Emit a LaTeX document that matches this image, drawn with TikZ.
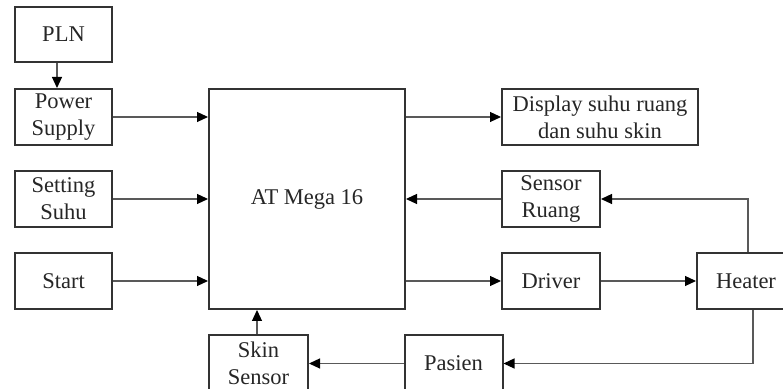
\documentclass[tikz,border=0pt]{standalone}
\usepackage{fontspec}
\setmainfont{Liberation Serif}
\usetikzlibrary{arrows.meta,calc}
\begin{document}
\begin{tikzpicture}[x=0.5pt,y=-0.5pt,
  blk/.style={draw=black!80,line width=1pt,inner sep=0pt,align=center,
    font=\fontsize{11.25pt}{13.5pt}\selectfont,text=black!85,
    minimum width=48.5pt,minimum height=28pt},
  arr/.style={draw=black!65,line width=0.6pt,-{Triangle[length=5.5pt,width=5pt,color=black]}}]
\useasboundingbox (0,0) rectangle (783,389);
\node[blk,minimum height=27.5pt] (PLN) at (63.5,34.5) {PLN};
\node[blk] (Power) at (63.5,117) {Power\\Supply};
\node[blk] (Setting) at (63.5,199) {Setting\\Suhu};
\node[blk] (Start) at (63.5,281) {Start};
\node[blk,minimum width=98pt,minimum height=110pt] (AT) at (307,199) {AT Mega 16};
\node[blk,minimum width=98pt] (Display) at (600,117) {Display suhu ruang\\dan suhu skin};
\node[blk,minimum width=49pt] (SensorR) at (551,199) {Sensor\\Ruang};
\node[blk,minimum width=49pt] (Driver) at (551,281) {Driver};
\node[blk,minimum width=49pt] (Heater) at (746,281) {Heater};
\node[blk,minimum width=49pt] (Pasien) at (453.5,363.5) {Pasien};
\node[blk,minimum width=49.5pt] (Skin) at (258.5,363.5) {Skin\\Sensor};
\draw[arr] (57,0 |- PLN.south) -- (57,0 |- Power.north);
\draw[arr] (Power.east) -- (Power.east -| AT.west);
\draw[arr] (Setting.east) -- (Setting.east -| AT.west);
\draw[arr] (Start.east) -- (Start.east -| AT.west);
\draw[arr] (Display.west -| AT.east) -- (Display.west);
\draw[arr] (SensorR.west) -- (SensorR.west -| AT.east);
\draw[arr] (Driver.west -| AT.east) -- (Driver.west);
\draw[arr] (Driver.east) -- (Heater.west);
\draw[arr] (748,0 |- Heater.north) |- (SensorR.east);
\draw[arr] (753,0 |- Heater.south) |- (Pasien.east);
\draw[arr] (Pasien.west) -- (Skin.east);
\draw[arr] (257,0 |- Skin.north) -- (257,0 |- AT.south);
\end{tikzpicture}
\end{document}
